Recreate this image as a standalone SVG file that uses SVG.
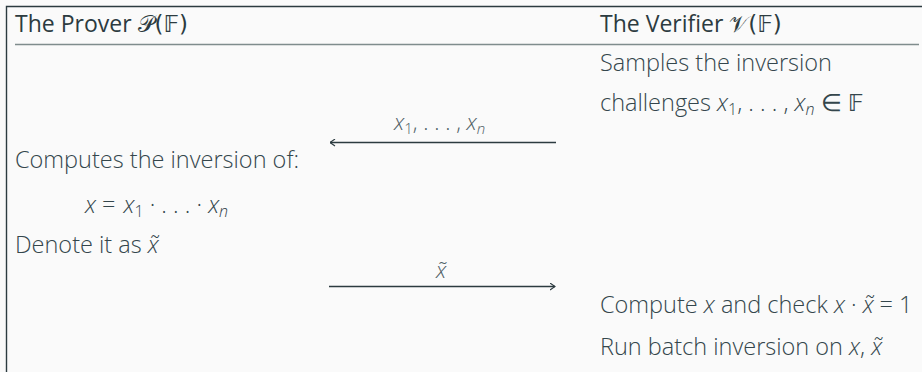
<svg xmlns="http://www.w3.org/2000/svg" width="922" height="372" viewBox="0 0 922 372">
<defs>
<style>
text{font-family:"Open Sans","Noto Sans","DejaVu Sans",sans-serif;font-size:23.5px;fill:#34464c;font-weight:300}
.h{font-weight:400;fill:#2c3b40;font-size:23px}
.m{font-style:italic}
.s{font-size:16px}
.bb{font-family:"DejaVu Sans",sans-serif;font-weight:400}
.lbl{fill:#4f6066;font-size:22px}
.lbl .s{font-size:15px}
.ln{stroke:#2c3b40;stroke-width:1.3;fill:none}
</style>
<marker id="ah" viewBox="0 0 6 8" refX="5.5" refY="4" markerWidth="6" markerHeight="8" markerUnits="userSpaceOnUse" orient="auto">
<path d="M0.5,0.5 L5.5,4 L0.5,7.5" fill="none" stroke="#2c3b40" stroke-width="1.1"/>
</marker>
</defs>
<rect width="922" height="372" fill="#fafafa"/>
<g id="frame">
<path d="M6.5,372 V6.5 H922" fill="none" stroke="#2c3b40" stroke-width="1.4"/>
<line x1="15" y1="44.5" x2="919" y2="44.5" stroke="#7f8c8d" stroke-width="1.4"/>
</g>
<g id="prover-header"><text class="h" x="15" y="32">The Prover <tspan class="bb">𝒫(𝔽)</tspan></text></g>
<g id="verifier-header"><text class="h" x="600" y="32">The Verifier <tspan class="bb">𝒱(𝔽)</tspan></text></g>
<g id="verifier-sample">
<text x="600" y="71">Samples the inversion</text>
<text x="600" y="111">challenges <tspan class="m">x</tspan><tspan class="s" dy="4">1</tspan><tspan dy="-4">, . . . , </tspan><tspan class="m">x</tspan><tspan class="s m" dy="4">n</tspan><tspan dy="-4" dx="6">∈ </tspan><tspan class="bb">𝔽</tspan></text>
</g>
<g id="prover-compute">
<text x="15" y="168">Computes the inversion of:</text>
<text x="85" y="213"><tspan class="m">x</tspan><tspan dx="6">= </tspan><tspan class="m" dx="2">x</tspan><tspan class="s" dy="4">1</tspan><tspan dy="-4"> · . . . · </tspan><tspan class="m">x</tspan><tspan class="s m" dy="4">n</tspan></text>
<text x="15" y="253">Denote it as <tspan class="m">x̃</tspan></text>
</g>
<g id="verifier-check">
<text x="600" y="313">Compute <tspan class="m">x</tspan> and check <tspan class="m">x</tspan> · <tspan class="m">x̃</tspan><tspan dx="6">= 1</tspan></text>
<text x="600" y="355">Run batch inversion on <tspan class="m">x</tspan>, <tspan class="m">x̃</tspan></text>
</g>
<g id="connectors">
<line class="ln" x1="556" y1="142.5" x2="330" y2="142.5" marker-end="url(#ah)"/>
<text class="lbl" x="394" y="130"><tspan class="m">x</tspan><tspan class="s" dy="4">1</tspan><tspan dy="-4">, . . . , </tspan><tspan class="m">x</tspan><tspan class="s m" dy="4">n</tspan></text>
<line class="ln" x1="329" y1="286.5" x2="555" y2="286.5" marker-end="url(#ah)"/>
<text class="lbl m" x="436" y="278">x̃</text>
</g>
</svg>
